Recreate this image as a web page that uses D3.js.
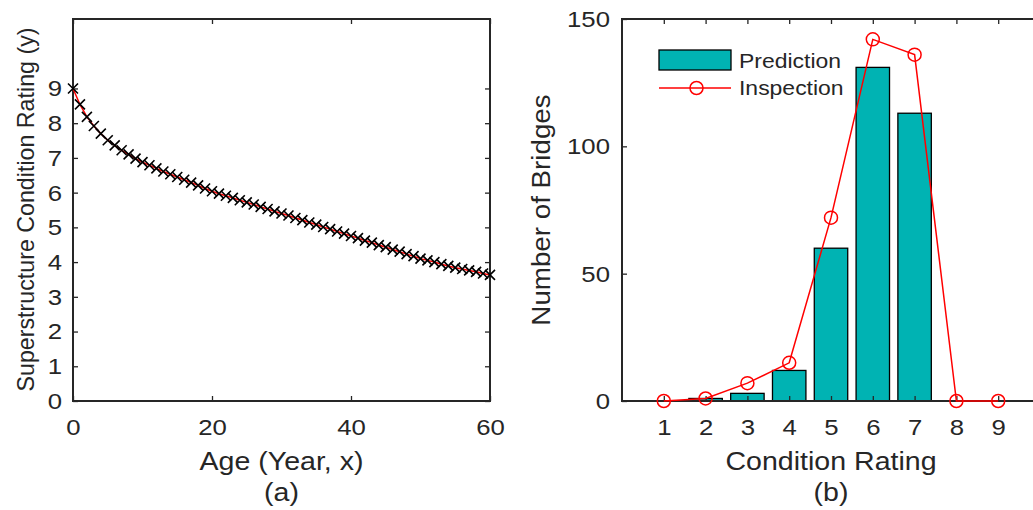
<!DOCTYPE html>
<html>
<head>
<meta charset="utf-8">
<script src="https://cdn.jsdelivr.net/npm/d3@7"></script>
<style>
  body { margin: 0; background: #fff; }
  svg { display: block; }
  text { font-family: "Liberation Sans", Arial, sans-serif; fill: #262626; }
</style>
</head>
<body>
<svg id="root"></svg>
<script>
// (a) condition rating vs age
const ages = [0, 1, 2, 3, 4, 5, 6, 7, 8, 9, 10, 11, 12, 13, 14, 15, 16, 17, 18, 19, 20,
  21, 22, 23, 24, 25, 26, 27, 28, 29, 30, 31, 32, 33, 34, 35, 36, 37, 38, 39, 40,
  41, 42, 43, 44, 45, 46, 47, 48, 49, 50, 51, 52, 53, 54, 55, 56, 57, 58, 59, 60];
const ratings = [9.00, 8.54, 8.18, 7.92, 7.70, 7.51, 7.36, 7.22, 7.10, 6.98, 6.88,
  6.79, 6.70, 6.61, 6.53, 6.45, 6.37, 6.29, 6.21, 6.12, 6.04,
  5.97, 5.91, 5.85, 5.78, 5.72, 5.66, 5.59, 5.53, 5.46, 5.40,
  5.34, 5.27, 5.21, 5.14, 5.08, 5.01, 4.95, 4.88, 4.82, 4.75,
  4.69, 4.62, 4.56, 4.49, 4.43, 4.36, 4.30, 4.23, 4.17, 4.10,
  4.05, 4.00, 3.94, 3.89, 3.84, 3.80, 3.76, 3.72, 3.67, 3.63];
const ageTicks = [0, 20, 40, 60];
const ratingTicks = [0, 1, 2, 3, 4, 5, 6, 7, 8, 9];

// (b) distribution of condition ratings
const conditions = [1, 2, 3, 4, 5, 6, 7, 8, 9];
const prediction = [0, 1, 3, 12, 60, 131, 113, 0, 0];
const inspection = [0, 1, 7, 15, 72, 142, 136, 0, 0];
const countTicks = [0, 50, 100, 150];

const SX = 1.12;          // the picture is slightly wider than tall
const ink = "#262626";
const teal = "#00b3b3";

let svg = d3.select("#root").attr("width", 1033).attr("height", 510);

function addText(g, str, x, y, size, anchor, rotate, sy) {
  let tf = rotate
    ? `translate(${x},${y}) scale(1,${sy || 1}) rotate(-90)`
    : `translate(${x},${y}) scale(${SX},1)`;
  return g.append("text")
    .attr("transform", tf)
    .attr("text-anchor", anchor || "middle")
    .style("font-size", size + "px")
    .text(str);
}

function styleAxis(sel) {
  sel.attr("font-family", null).attr("font-size", null);
  sel.select(".domain").remove();
  sel.selectAll(".tick line").attr("stroke", ink).attr("stroke-width", 1.3);
  sel.selectAll(".tick text").each(function () {
    let t = d3.select(this);
    let x = +t.attr("x") || 0;
    let y = +t.attr("y") || 0;
    t.attr("x", null).attr("y", null)
      .attr("transform", `translate(${x},${y}) scale(${SX},1)`);
  }).attr("fill", ink).style("font-size", "23px");
}

// ---------- panel (a) ----------
const xA = d3.scaleLinear().domain([0, 60]).range([73, 490]);
const yA = d3.scaleLinear().domain([0, 11]).range([401, 19]);
let gA = svg.append("g");

gA.append("g").attr("transform", `translate(0,${yA(0)})`)
  .call(d3.axisBottom(xA).tickValues(ageTicks).tickSizeInner(-5).tickSizeOuter(0).tickPadding(18))
  .call(styleAxis);
gA.append("g").attr("transform", `translate(0,${yA(11)})`)
  .call(d3.axisTop(xA).tickValues(ageTicks).tickSizeInner(-5).tickSizeOuter(0).tickFormat(""))
  .call(styleAxis);
gA.append("g").attr("transform", `translate(${xA(0)},0)`)
  .call(d3.axisLeft(yA).tickValues(ratingTicks).tickSizeInner(-5).tickSizeOuter(0).tickPadding(11))
  .call(styleAxis);
gA.append("g").attr("transform", `translate(${xA(60)},0)`)
  .call(d3.axisRight(yA).tickValues(ratingTicks).tickSizeInner(-5).tickSizeOuter(0).tickFormat(""))
  .call(styleAxis);

gA.append("rect")
  .attr("x", xA(0)).attr("y", yA(11))
  .attr("width", xA(60) - xA(0)).attr("height", yA(0) - yA(11))
  .attr("fill", "none").attr("stroke", ink).attr("stroke-width", 2);

let pts = ages.map((a, i) => ({ x: a, y: ratings[i] }));
gA.append("path")
  .datum(pts)
  .attr("d", d3.line().x(d => xA(d.x)).y(d => yA(d.y)))
  .attr("fill", "none").attr("stroke", "#ff0000").attr("stroke-width", 1.5);
gA.selectAll(".cross")
  .data(pts)
  .enter().append("path")
  .attr("class", "cross")
  .attr("transform", d => `translate(${xA(d.x)},${yA(d.y)})`)
  .attr("d", "M-5,-5L5,5M-5,5L5,-5")
  .attr("stroke", "#000").attr("stroke-width", 1.6);

addText(gA, "Age (Year, x)", 281.5, 470, 25.5);
addText(gA, "(a)", 281.5, 501, 25.5);
addText(gA, "Superstructure Condition Rating (y)", 34, 209.5, 23, "middle", true, 1.01);

// ---------- panel (b) ----------
const xB = d3.scaleLinear().domain([0, 10]).range([622, 1040]);
const yB = d3.scaleLinear().domain([0, 150]).range([401, 19]);
let gB = svg.append("g");
let barW = 0.8 * (xB(1) - xB(0));

gB.selectAll(".bar")
  .data(conditions.map((c, i) => ({ c: c, v: prediction[i] })).filter(d => d.v > 0))
  .enter().append("rect")
  .attr("class", "bar")
  .attr("x", d => xB(d.c) - barW / 2)
  .attr("y", d => yB(d.v))
  .attr("width", barW)
  .attr("height", d => yB(0) - yB(d.v))
  .attr("fill", teal).attr("stroke", "#000").attr("stroke-width", 1.3);

gB.append("g").attr("transform", `translate(0,${yB(0)})`)
  .call(d3.axisBottom(xB).tickValues(conditions).tickSizeInner(-5).tickSizeOuter(0).tickPadding(18))
  .call(styleAxis);
gB.append("g").attr("transform", `translate(0,${yB(150)})`)
  .call(d3.axisTop(xB).tickValues(conditions).tickSizeInner(-5).tickSizeOuter(0).tickFormat(""))
  .call(styleAxis);
gB.append("g").attr("transform", `translate(${xB(0)},0)`)
  .call(d3.axisLeft(yB).tickValues(countTicks).tickSizeInner(-5).tickSizeOuter(0).tickPadding(12))
  .call(styleAxis);

gB.append("path")
  .attr("d", `M${xB(10)},${yB(150)}H${xB(0)}V${yB(0)}H${xB(10)}`)
  .attr("fill", "none").attr("stroke", ink).attr("stroke-width", 2);

let insp = conditions.map((c, i) => ({ c: c, v: inspection[i] }));
gB.append("path")
  .datum(insp)
  .attr("d", d3.line().x(d => xB(d.c)).y(d => yB(d.v)))
  .attr("fill", "none").attr("stroke", "#ff0000").attr("stroke-width", 1.5);
gB.selectAll(".circ")
  .data(insp)
  .enter().append("circle")
  .attr("class", "circ")
  .attr("cx", d => xB(d.c)).attr("cy", d => yB(d.v)).attr("r", 6.5)
  .attr("fill", "none").attr("stroke", "#ff0000").attr("stroke-width", 1.5);

// legend
let lg = gB.append("g");
lg.append("rect").attr("x", 659).attr("y", 50).attr("width", 72).attr("height", 20)
  .attr("fill", teal).attr("stroke", "#000").attr("stroke-width", 1.3);
lg.append("line").attr("x1", 659).attr("x2", 731).attr("y1", 88).attr("y2", 88)
  .attr("stroke", "#ff0000").attr("stroke-width", 1.5);
lg.append("circle").attr("cx", 696.5).attr("cy", 88).attr("r", 6.5)
  .attr("fill", "none").attr("stroke", "#ff0000").attr("stroke-width", 1.5);
addText(lg, "Prediction", 739, 67.5, 20.5, "start");
addText(lg, "Inspection", 739, 95, 20.5, "start");

addText(gB, "Condition Rating", xB(5), 470, 25.5);
addText(gB, "(b)", xB(5), 501, 25.5);
addText(gB, "Number of Bridges", 550, 210, 25, "middle", true, 1.11);
</script>
</body>
</html>
